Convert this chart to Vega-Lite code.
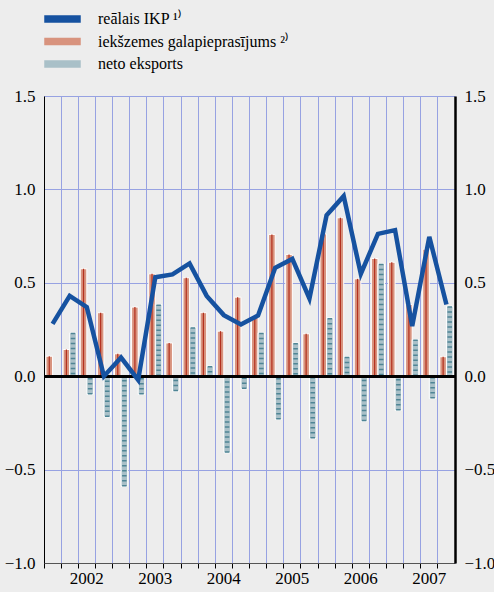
{
  "$schema": "https://vega.github.io/schema/vega-lite/v6.json",
  "width": 411,
  "height": 467,
  "autosize": {"type": "none"},
  "padding": {"left": 44, "top": 96, "right": 39, "bottom": 29},
  "background": "#ededed",
  "config": {
    "view": {"stroke": null, "fill": "#ededed"},
    "font": "serif",
    "axis": {"labelFont": "serif", "labelFontSize": 17, "labelColor": "#000"}
  },
  "data": {
    "values": [
      {"q": "2002Q1", "gdp": 0.28, "dom": 0.107, "net": 0.0},
      {"q": "2002Q2", "gdp": 0.43, "dom": 0.143, "net": 0.232},
      {"q": "2002Q3", "gdp": 0.37, "dom": 0.575, "net": -0.098},
      {"q": "2002Q4", "gdp": 0.0, "dom": 0.34, "net": -0.218},
      {"q": "2003Q1", "gdp": 0.1, "dom": 0.12, "net": -0.59},
      {"q": "2003Q2", "gdp": -0.02, "dom": 0.37, "net": -0.098},
      {"q": "2003Q3", "gdp": 0.53, "dom": 0.548, "net": 0.384},
      {"q": "2003Q4", "gdp": 0.545, "dom": 0.178, "net": -0.08},
      {"q": "2004Q1", "gdp": 0.604, "dom": 0.527, "net": 0.262},
      {"q": "2004Q2", "gdp": 0.43, "dom": 0.34, "net": 0.054},
      {"q": "2004Q3", "gdp": 0.327, "dom": 0.241, "net": -0.41},
      {"q": "2004Q4", "gdp": 0.277, "dom": 0.423, "net": -0.068},
      {"q": "2005Q1", "gdp": 0.325, "dom": 0.321, "net": 0.232},
      {"q": "2005Q2", "gdp": 0.58, "dom": 0.759, "net": -0.232},
      {"q": "2005Q3", "gdp": 0.628, "dom": 0.652, "net": 0.178},
      {"q": "2005Q4", "gdp": 0.416, "dom": 0.227, "net": -0.334},
      {"q": "2006Q1", "gdp": 0.862, "dom": 0.762, "net": 0.312},
      {"q": "2006Q2", "gdp": 0.964, "dom": 0.848, "net": 0.104},
      {"q": "2006Q3", "gdp": 0.548, "dom": 0.521, "net": -0.241},
      {"q": "2006Q4", "gdp": 0.762, "dom": 0.63, "net": 0.602},
      {"q": "2007Q1", "gdp": 0.782, "dom": 0.61, "net": -0.184},
      {"q": "2007Q2", "gdp": 0.268, "dom": 0.384, "net": 0.196},
      {"q": "2007Q3", "gdp": 0.746, "dom": 0.68, "net": -0.12},
      {"q": "2007Q4", "gdp": 0.384, "dom": 0.104, "net": 0.375}
    ]
  },
  "layer": [
    {
      "mark": {"type": "rule", "strokeWidth": 2.5, "color": "#000"},
      "encoding": {
        "y": {
          "datum": 0, "type": "quantitative",
          "scale": {"domain": [-1, 1.5], "nice": false, "zero": false},
          "axis": {
            "title": null, "orient": "right", "values": [-1, -0.5, 0, 0.5, 1, 1.5], "format": ".1f",
            "labelFont": "serif", "labelFontSize": 17, "labelColor": "#000",
            "grid": false, "ticks": false, "labelPadding": 9, "domain": true, "domainColor": "#000", "domainWidth": 2.5
          }
        }
      }
    },
    {
      "transform": [{"fold": ["dom", "net"], "as": ["key", "value"]}],
      "mark": {"type": "bar", "stroke": "#ffffff", "strokeWidth": 1},
      "encoding": {
        "x": {
          "field": "q", "type": "ordinal", "sort": null,
          "scale": {"paddingInner": 0, "paddingOuter": 0},
          "axis": {
            "title": null, "bandPosition": 0, "grid": true, "gridColor": "#97a2e2", "gridWidth": 1,
            "labelAngle": 0, "labelOverlap": false, "labelPadding": 2,
            "labelFont": "serif", "labelFontSize": 17, "labelColor": "#000",
            "labelExpr": "substring(datum.value, 4, 6) === 'Q3' ? substring(datum.value, 0, 4) : ''",
            "ticks": true, "tickSize": 5, "tickColor": "#000", "domainColor": "#555"
          }
        },
        "xOffset": {"field": "key", "type": "nominal", "sort": ["dom", "net"], "scale": {"paddingInner": 0, "paddingOuter": 0.3}},
        "y": {
          "field": "value", "type": "quantitative",
          "axis": {
            "title": null, "orient": "left", "values": [-1, -0.5, 0, 0.5, 1, 1.5], "format": ".1f",
            "labelFont": "serif", "labelFontSize": 17, "labelColor": "#000",
            "grid": true, "gridColor": "#97a2e2", "ticks": false, "labelPadding": 9,
            "domain": true, "domainColor": "#000"
          }
        },
        "color": {
          "field": "key", "type": "nominal",
          "scale": {"domain": ["gdp", "dom", "net"], "range": ["#1652a0", "#d8937e", "#a9c0c8"]},
          "legend": {
            "title": null, "orient": "none", "legendX": 10.5, "legendY": -85,
            "symbolType": "M-3.5,-0.6H3.5V0.6H-3.5Z", "symbolSize": 100, "padding": 0, "rowPadding": 6.5,
            "labelFont": "serif", "labelFontSize": 16, "labelColor": "#000", "labelOffset": 27.5, "labelLimit": 400,
            "labelExpr": "datum.value === 'gdp' ? 'reālais IKP ¹⁾' : datum.value === 'dom' ? 'iekšzemes galapieprasījums ²⁾' : 'neto eksports'",
            "encode": {
              "symbols": {
                "update": {
                  "fill": {"scale": "color", "field": "value"},
                  "stroke": {"value": "#ffffff"},
                  "strokeWidth": {"value": 0.5},
                  "opacity": {"value": 1},
                  "fillOpacity": {"value": 1}
                }
              }
            }
          }
        }
      }
    },
    {
      "transform": [{"fold": ["dom", "net"], "as": ["key", "value"]}, {"filter": "datum.key === 'dom'"}],
      "mark": {"type": "rule", "strokeWidth": 1.2, "color": "#b3301e"},
      "encoding": {
        "x": {"field": "q", "type": "ordinal", "sort": null},
        "xOffset": {"field": "key", "type": "nominal", "sort": ["dom", "net"]},
        "y": {"field": "value", "type": "quantitative", "axis": null},
        "y2": {"datum": 0}
      }
    },
    {
      "transform": [{"fold": ["dom", "net"], "as": ["key", "value"]}, {"filter": "datum.key === 'net'"}],
      "mark": {"type": "rule", "strokeWidth": 4.5, "strokeDash": [1.5, 3.5], "color": "#4f8595"},
      "encoding": {
        "x": {"field": "q", "type": "ordinal", "sort": null},
        "xOffset": {"field": "key", "type": "nominal", "sort": ["dom", "net"]},
        "y": {"field": "value", "type": "quantitative", "axis": null},
        "y2": {"datum": 0}
      }
    },
    {
      "mark": {"type": "rule", "strokeWidth": 2.5, "color": "#000"},
      "encoding": {
        "y": {"datum": 0, "type": "quantitative", "axis": null}
      }
    },
    {
      "mark": {"type": "line", "strokeWidth": 4.5, "strokeJoin": "miter"},
      "encoding": {
        "x": {"field": "q", "type": "ordinal", "sort": null},
        "y": {"field": "gdp", "type": "quantitative", "axis": null},
        "color": {"datum": "gdp", "legend": null}
      }
    }
  ],
  "resolve": {"axis": {"y": "independent"}}
}
